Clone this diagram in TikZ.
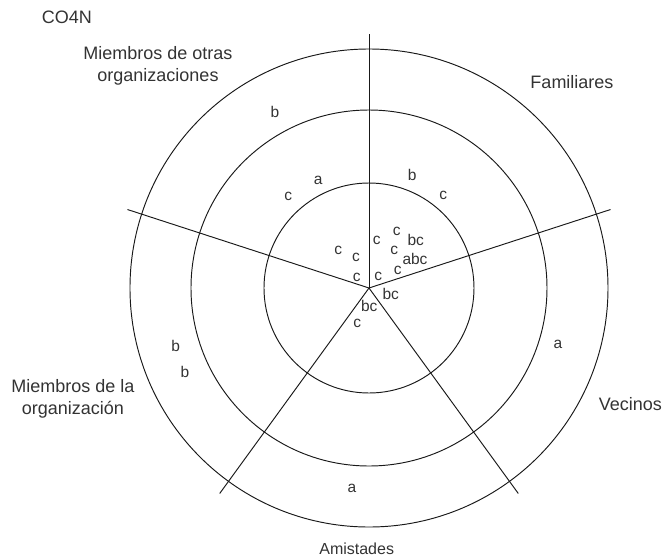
\documentclass[tikz,border=0pt]{standalone}
\usepackage{fontspec}
\setmainfont{Liberation Sans}
\begin{document}
\begin{tikzpicture}[x=1pt,y=1pt,
  ring/.style={line width=0.95pt, draw=black!90},
  spoke/.style={line width=0.95pt, draw=black!90},
  lbl/.style={font=\fontsize{18}{22.4}\selectfont, text=black!80, inner sep=0pt, align=center},
  lblsmall/.style={font=\fontsize{16}{19}\selectfont, text=black!80, inner sep=0pt},
  mk/.style={font=\fontsize{15.5}{18}\selectfont, text=black!80, inner sep=0pt}]
\useasboundingbox (-369,-270) rectangle (295,288);
\coordinate (O) at (0,0);
\draw[ring] (O) circle[radius=105];
\draw[ring] (O) circle[radius=178];
\draw[ring] (O) circle[radius=239];
\coordinate (s1) at (90:254);
\coordinate (s2) at (162:254);
\coordinate (s3) at (18:254);
\coordinate (s4) at (234:254);
\coordinate (s5) at (306:254);
\draw[spoke] (O) -- (s1);
\draw[spoke] (O) -- (s2);
\draw[spoke] (O) -- (s3);
\draw[spoke] (O) -- (s4);
\draw[spoke] (O) -- (s5);
% labels
\node[lbl, anchor=base] (title) at (-302,264.7) {CO4N};
\node[lbl] (otras) at (-211,222.1) {Miembros de otras\\organizaciones};
\node[lbl, anchor=base] (fam) at (203,199.3) {Familiares};
\node[lbl, anchor=base] (vec) at (261.3,-122.7) {Vecinos};
\node[lblsmall, anchor=base] (ami) at (-12.3,-266.3) {Amistades};
\node[lbl] (org) at (-296,-110.6) {Miembros de la\\organización};
% marks
\node[mk] (m1) at (-80.7,92) {c};
\node[mk] (m2) at (-50.7,108) {a};
\node[mk] (m3) at (43.3,113) {b};
\node[mk] (m4) at (74.3,93) {c};
\node[mk] (m5) at (7.7,48) {c};
\node[mk] (m6) at (27.7,57) {c};
\node[mk] (m7) at (46.7,48) {bc};
\node[mk] (m8) at (25.3,37.3) {c};
\node[mk] (m9) at (46,29) {abc};
\node[mk] (m10) at (28.7,17.3) {c};
\node[mk] (m11) at (9.3,11.3) {c};
\node[mk] (m12) at (-30.7,38) {c};
\node[mk] (m13) at (-13,30.7) {c};
\node[mk] (m14) at (-12.3,10.7) {c};
\node[mk] (m15) at (21.7,-6) {bc};
\node[mk] (m16) at (0.3,-17.7) {bc};
\node[mk] (m17) at (-11.7,-35.3) {c};
\node[mk] (m18) at (-94,176.3) {b};
\node[mk] (m19) at (-193.3,-57.7) {b};
\node[mk] (m20) at (-184,-83.7) {b};
\node[mk] (m21) at (189,-56) {a};
\node[mk] (m22) at (-17,-200.3) {a};
\end{tikzpicture}
\end{document}
